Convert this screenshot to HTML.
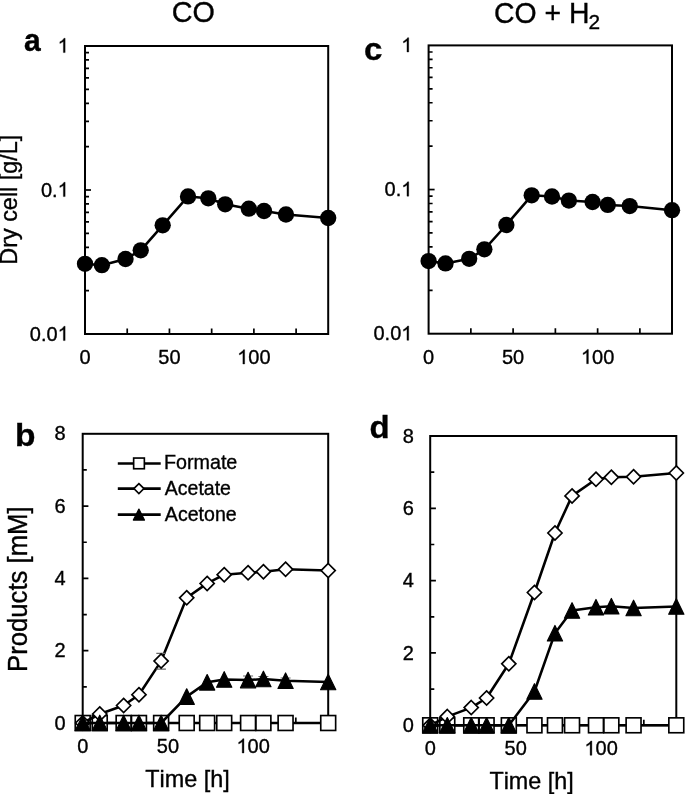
<!DOCTYPE html>
<html><head><meta charset="utf-8"><title>CO vs CO+H2 growth and products</title>
<style>html,body{margin:0;padding:0;background:#fff;}svg{display:block;font-family:"Liberation Sans",sans-serif;will-change:transform;}.ax{fill:none;stroke:#000;stroke-width:2;}.tk{fill:none;stroke:#000;stroke-width:1.7;}.ln{fill:none;stroke:#000;stroke-width:2.55;stroke-linejoin:round;}.mk{fill:#fff;stroke:#000;stroke-width:1.65;}.one{fill:#000;stroke:#000;stroke-width:0.35px;vector-effect:non-scaling-stroke;}.tri{fill:#000;stroke:#000;stroke-width:1.2;stroke-linejoin:round;}.eb{fill:none;stroke:#666;stroke-width:1.1;}text{fill:#000;font-kerning:none;stroke:#000;stroke-width:0.35px;}</style></head><body>
<svg width="685" height="794" viewBox="0 0 685 794">
<rect width="685" height="794" fill="#fff"/>
<text transform="translate(171.84,22.31) scale(1,1.0363)" x="0" y="0" font-size="28.758">CO</text>
<text transform="translate(494.06,22.61) scale(1,1.0595)" x="0" y="0" font-size="28.395">CO + H</text>
<text transform="translate(588.45,29.2) scale(1,0.9615)" x="0" y="0" font-size="20.853">2</text>
<text transform="translate(23.92,50.69) scale(1,1.0523)" x="0" y="0" font-size="30.007" font-weight="bold">a</text>
<text transform="translate(15.09,445.59) scale(1,0.9338)" x="0" y="0" font-size="33.538" font-weight="bold">b</text>
<text transform="translate(363.91,59.8) scale(1,0.9346)" x="0" y="0" font-size="33.006" font-weight="bold">c</text>
<text transform="translate(369.45,437.6) scale(1,0.9466)" x="0" y="0" font-size="32.943" font-weight="bold">d</text>
<text transform="translate(17,264.72) rotate(-90) scale(1,1.0338)" x="0" y="0" font-size="23.409">Dry cell [g/L]</text>
<text transform="translate(26.9,672.01) rotate(-90) scale(1,1.0571)" x="0" y="0" font-size="25.713">Products [mM]</text>
<text transform="translate(145.27,787.32) scale(1,1.0043)" x="0" y="0" font-size="23.394">Time [h]</text>
<text transform="translate(489.38,789.02) scale(1,1.0055)" x="0" y="0" font-size="23.365">Time [h]</text>
<rect x="85" y="46" width="243.2" height="288" class="ax"/>
<path class="tk" d="M85,146.65 H89 M85,121.29 H89 M85,103.3 H89 M85,89.35 H89 M85,77.95 H89 M85,68.31 H89 M85,59.96 H89 M85,52.59 H89 M85,290.65 H89 M85,265.29 H89 M85,247.3 H89 M85,233.35 H89 M85,221.95 H89 M85,212.31 H89 M85,203.96 H89 M85,196.59 H89 "/><path class="tk" d="M85,190 H91 "/>
<path class="tk" d="M127.22,334 V328.5 M169.44,334 V328.5 M211.67,334 V328.5 M253.89,334 V328.5 M296.11,334 V328.5 "/>
<g transform="translate(57.68,52.6)"><path class="one" transform="translate(0,0) scale(0.009766,-0.009766)" d="M763,0 L583,0 L583,1147 Q518,1085 412,1023 Q306,961 223,930 L223,1104 Q372,1174 484,1274 Q596,1374 643,1466 L763,1466 Z"/></g>
<g transform="translate(41,196.6)"><text x="0" y="0" font-size="20" transform="scale(1,1.04)">0</text><text x="11.12" y="0" font-size="20" transform="scale(1,1.04)">.</text><path class="one" transform="translate(16.68,0) scale(0.009766,-0.009766)" d="M763,0 L583,0 L583,1147 Q518,1085 412,1023 Q306,961 223,930 L223,1104 Q372,1174 484,1274 Q596,1374 643,1466 L763,1466 Z"/></g>
<g transform="translate(29.87,340.6)"><text x="0" y="0" font-size="20" transform="scale(1,1.04)">0</text><text x="11.12" y="0" font-size="20" transform="scale(1,1.04)">.</text><text x="16.68" y="0" font-size="20" transform="scale(1,1.04)">0</text><path class="one" transform="translate(27.8,0) scale(0.009766,-0.009766)" d="M763,0 L583,0 L583,1147 Q518,1085 412,1023 Q306,961 223,930 L223,1104 Q372,1174 484,1274 Q596,1374 643,1466 L763,1466 Z"/></g>
<g transform="translate(79.44,364)"><text x="0" y="0" font-size="20" transform="scale(1,1.04)">0</text></g>
<g transform="translate(158.32,364)"><text x="0" y="0" font-size="20" transform="scale(1,1.04)">5</text><text x="11.12" y="0" font-size="20" transform="scale(1,1.04)">0</text></g>
<g transform="translate(237.2,364)"><path class="one" transform="translate(0,0) scale(0.009766,-0.009766)" d="M763,0 L583,0 L583,1147 Q518,1085 412,1023 Q306,961 223,930 L223,1104 Q372,1174 484,1274 Q596,1374 643,1466 L763,1466 Z"/><text x="11.12" y="0" font-size="20" transform="scale(1,1.04)">0</text><text x="22.25" y="0" font-size="20" transform="scale(1,1.04)">0</text></g>
<path class="ln" d="M85,263.8 L101.89,265.2 L125.53,259 L140.73,250.3 L162.69,225.3 L188.02,196.4 L208.29,198.3 L225.18,204.3 L248.82,208.7 L264.02,211 L285.98,214.5 L328.2,218"/>
<g><circle cx="85" cy="263.8" r="8.15"/><circle cx="101.89" cy="265.2" r="8.15"/><circle cx="125.53" cy="259" r="8.15"/><circle cx="140.73" cy="250.3" r="8.15"/><circle cx="162.69" cy="225.3" r="8.15"/><circle cx="188.02" cy="196.4" r="8.15"/><circle cx="208.29" cy="198.3" r="8.15"/><circle cx="225.18" cy="204.3" r="8.15"/><circle cx="248.82" cy="208.7" r="8.15"/><circle cx="264.02" cy="211" r="8.15"/><circle cx="285.98" cy="214.5" r="8.15"/><circle cx="328.2" cy="218" r="8.15"/></g>
<rect x="428.6" y="45.4" width="243.4" height="288.3" class="ax"/>
<path class="tk" d="M428.6,146.16 H432.6 M428.6,120.77 H432.6 M428.6,102.76 H432.6 M428.6,88.79 H432.6 M428.6,77.38 H432.6 M428.6,67.73 H432.6 M428.6,59.37 H432.6 M428.6,52 H432.6 M428.6,290.31 H432.6 M428.6,264.92 H432.6 M428.6,246.91 H432.6 M428.6,232.94 H432.6 M428.6,221.53 H432.6 M428.6,211.88 H432.6 M428.6,203.52 H432.6 M428.6,196.15 H432.6 "/><path class="tk" d="M428.6,189.55 H434.6 "/>
<path class="tk" d="M470.86,333.7 V328.2 M513.11,333.7 V328.2 M555.37,333.7 V328.2 M597.63,333.7 V328.2 M639.88,333.7 V328.2 "/>
<g transform="translate(401.28,52)"><path class="one" transform="translate(0,0) scale(0.009766,-0.009766)" d="M763,0 L583,0 L583,1147 Q518,1085 412,1023 Q306,961 223,930 L223,1104 Q372,1174 484,1274 Q596,1374 643,1466 L763,1466 Z"/></g>
<g transform="translate(384.6,196.15)"><text x="0" y="0" font-size="20" transform="scale(1,1.04)">0</text><text x="11.12" y="0" font-size="20" transform="scale(1,1.04)">.</text><path class="one" transform="translate(16.68,0) scale(0.009766,-0.009766)" d="M763,0 L583,0 L583,1147 Q518,1085 412,1023 Q306,961 223,930 L223,1104 Q372,1174 484,1274 Q596,1374 643,1466 L763,1466 Z"/></g>
<g transform="translate(373.47,340.3)"><text x="0" y="0" font-size="20" transform="scale(1,1.04)">0</text><text x="11.12" y="0" font-size="20" transform="scale(1,1.04)">.</text><text x="16.68" y="0" font-size="20" transform="scale(1,1.04)">0</text><path class="one" transform="translate(27.8,0) scale(0.009766,-0.009766)" d="M763,0 L583,0 L583,1147 Q518,1085 412,1023 Q306,961 223,930 L223,1104 Q372,1174 484,1274 Q596,1374 643,1466 L763,1466 Z"/></g>
<g transform="translate(423.04,363.7)"><text x="0" y="0" font-size="20" transform="scale(1,1.04)">0</text></g>
<g transform="translate(501.99,363.7)"><text x="0" y="0" font-size="20" transform="scale(1,1.04)">5</text><text x="11.12" y="0" font-size="20" transform="scale(1,1.04)">0</text></g>
<g transform="translate(580.94,363.7)"><path class="one" transform="translate(0,0) scale(0.009766,-0.009766)" d="M763,0 L583,0 L583,1147 Q518,1085 412,1023 Q306,961 223,930 L223,1104 Q372,1174 484,1274 Q596,1374 643,1466 L763,1466 Z"/><text x="11.12" y="0" font-size="20" transform="scale(1,1.04)">0</text><text x="22.25" y="0" font-size="20" transform="scale(1,1.04)">0</text></g>
<path class="ln" d="M428.6,261.1 L445.5,263.4 L469.17,258.8 L484.38,249.3 L506.35,225 L531.71,195.3 L551.99,196.5 L568.89,200.6 L592.56,202 L607.77,204.9 L629.74,206.1 L672,210.2"/>
<g><circle cx="428.6" cy="261.1" r="8.15"/><circle cx="445.5" cy="263.4" r="8.15"/><circle cx="469.17" cy="258.8" r="8.15"/><circle cx="484.38" cy="249.3" r="8.15"/><circle cx="506.35" cy="225" r="8.15"/><circle cx="531.71" cy="195.3" r="8.15"/><circle cx="551.99" cy="196.5" r="8.15"/><circle cx="568.89" cy="200.6" r="8.15"/><circle cx="592.56" cy="202" r="8.15"/><circle cx="607.77" cy="204.9" r="8.15"/><circle cx="629.74" cy="206.1" r="8.15"/><circle cx="672" cy="210.2" r="8.15"/></g>
<rect x="82.7" y="433.8" width="245.5" height="289.2" class="ax"/>
<path class="tk" d="M82.7,686.85 H86.8 M82.7,614.55 H86.8 M82.7,542.25 H86.8 M82.7,469.95 H86.8 "/><path class="tk" d="M82.7,650.7 H88.4 M82.7,578.4 H88.4 M82.7,506.1 H88.4 "/>
<path class="tk" d="M125.32,723 V717.5 M167.94,723 V717.5 M210.56,723 V717.5 M253.19,723 V717.5 M295.81,723 V717.5 "/>
<g transform="translate(54.58,729.6)"><text x="0" y="0" font-size="20" transform="scale(1,1.04)">0</text></g>
<g transform="translate(54.58,657.3)"><text x="0" y="0" font-size="20" transform="scale(1,1.04)">2</text></g>
<g transform="translate(54.58,585)"><text x="0" y="0" font-size="20" transform="scale(1,1.04)">4</text></g>
<g transform="translate(54.58,512.7)"><text x="0" y="0" font-size="20" transform="scale(1,1.04)">6</text></g>
<g transform="translate(54.58,440.4)"><text x="0" y="0" font-size="20" transform="scale(1,1.04)">8</text></g>
<g transform="translate(77.14,753)"><text x="0" y="0" font-size="20" transform="scale(1,1.04)">0</text></g>
<g transform="translate(156.82,753)"><text x="0" y="0" font-size="20" transform="scale(1,1.04)">5</text><text x="11.12" y="0" font-size="20" transform="scale(1,1.04)">0</text></g>
<g transform="translate(236.5,753)"><path class="one" transform="translate(0,0) scale(0.009766,-0.009766)" d="M763,0 L583,0 L583,1147 Q518,1085 412,1023 Q306,961 223,930 L223,1104 Q372,1174 484,1274 Q596,1374 643,1466 L763,1466 Z"/><text x="11.12" y="0" font-size="20" transform="scale(1,1.04)">0</text><text x="22.25" y="0" font-size="20" transform="scale(1,1.04)">0</text></g>
<path class="ln" d="M82.7,723 L99.75,723 L123.62,723 L138.96,723 L161.12,723 L186.7,723 L207.15,723 L224.2,723 L248.07,723 L263.42,723 L285.58,723 L328.2,723"/>
<g><rect x="75.25" y="715.55" width="14.9" height="14.9" class="mk"/><rect x="92.3" y="715.55" width="14.9" height="14.9" class="mk"/><rect x="116.17" y="715.55" width="14.9" height="14.9" class="mk"/><rect x="131.51" y="715.55" width="14.9" height="14.9" class="mk"/><rect x="153.67" y="715.55" width="14.9" height="14.9" class="mk"/><rect x="179.25" y="715.55" width="14.9" height="14.9" class="mk"/><rect x="199.7" y="715.55" width="14.9" height="14.9" class="mk"/><rect x="216.75" y="715.55" width="14.9" height="14.9" class="mk"/><rect x="240.62" y="715.55" width="14.9" height="14.9" class="mk"/><rect x="255.97" y="715.55" width="14.9" height="14.9" class="mk"/><rect x="278.13" y="715.55" width="14.9" height="14.9" class="mk"/><rect x="320.75" y="715.55" width="14.9" height="14.9" class="mk"/></g>
<path class="ln" d="M82.7,723 L99.75,714 L123.62,705.5 L138.96,694.7 L161.12,661.1 L186.7,597.8 L207.15,583.4 L224.2,574.7 L248.07,572.8 L263.42,571.7 L285.58,569.3 L328.2,570.6"/>
<path class="eb" d="M156.32,653.4 H165.92 M156.32,669.1 H165.92 M161.12,653.4 V669.1"/>
<g><path class="mk" d="M82.7,715.9 L89.8,723 L82.7,730.1 L75.6,723 Z"/><path class="mk" d="M99.75,706.9 L106.85,714 L99.75,721.1 L92.65,714 Z"/><path class="mk" d="M123.62,698.4 L130.71,705.5 L123.62,712.6 L116.52,705.5 Z"/><path class="mk" d="M138.96,687.6 L146.06,694.7 L138.96,701.8 L131.86,694.7 Z"/><path class="mk" d="M161.12,654 L168.22,661.1 L161.12,668.2 L154.03,661.1 Z"/><path class="mk" d="M186.7,590.7 L193.79,597.8 L186.7,604.9 L179.6,597.8 Z"/><path class="mk" d="M207.15,576.3 L214.25,583.4 L207.15,590.5 L200.06,583.4 Z"/><path class="mk" d="M224.2,567.6 L231.3,574.7 L224.2,581.8 L217.11,574.7 Z"/><path class="mk" d="M248.07,565.7 L255.17,572.8 L248.07,579.9 L240.97,572.8 Z"/><path class="mk" d="M263.42,564.6 L270.51,571.7 L263.42,578.8 L256.32,571.7 Z"/><path class="mk" d="M285.58,562.2 L292.68,569.3 L285.58,576.4 L278.48,569.3 Z"/><path class="mk" d="M328.2,563.5 L335.3,570.6 L328.2,577.7 L321.1,570.6 Z"/></g>
<path class="ln" d="M82.7,723 L99.75,723 L123.62,723 L138.96,723 L161.12,723 L186.7,696.6 L207.15,682.3 L224.2,679.4 L248.07,680.1 L263.42,679 L285.58,680.7 L328.2,682"/>
<path class="eb" d="M243.07,676 H253.07 M258.42,676.5 H268.42 M280.58,678 H290.58 "/>
<g><path class="tri" d="M82.7,715.25 L90.3,730.75 L75.1,730.75 Z"/><path class="tri" d="M99.75,715.25 L107.35,730.75 L92.15,730.75 Z"/><path class="tri" d="M123.62,715.25 L131.22,730.75 L116.02,730.75 Z"/><path class="tri" d="M138.96,715.25 L146.56,730.75 L131.36,730.75 Z"/><path class="tri" d="M161.12,715.25 L168.72,730.75 L153.52,730.75 Z"/><path class="tri" d="M186.7,688.85 L194.3,704.35 L179.1,704.35 Z"/><path class="tri" d="M207.15,674.55 L214.75,690.05 L199.55,690.05 Z"/><path class="tri" d="M224.2,671.65 L231.8,687.15 L216.6,687.15 Z"/><path class="tri" d="M248.07,672.35 L255.67,687.85 L240.47,687.85 Z"/><path class="tri" d="M263.42,671.25 L271.02,686.75 L255.82,686.75 Z"/><path class="tri" d="M285.58,672.95 L293.18,688.45 L277.98,688.45 Z"/><path class="tri" d="M328.2,674.25 L335.8,689.75 L320.6,689.75 Z"/></g>
<rect x="430.2" y="436" width="246.1" height="289.3" class="ax"/>
<path class="tk" d="M430.2,689.14 H434.3 M430.2,616.81 H434.3 M430.2,544.49 H434.3 M430.2,472.16 H434.3 "/><path class="tk" d="M430.2,652.97 H435.9 M430.2,580.65 H435.9 M430.2,508.32 H435.9 "/>
<path class="tk" d="M472.93,725.3 V719.8 M515.65,725.3 V719.8 M558.38,725.3 V719.8 M601.1,725.3 V719.8 M643.83,725.3 V719.8 "/>
<g transform="translate(402.78,731.9)"><text x="0" y="0" font-size="20" transform="scale(1,1.04)">0</text></g>
<g transform="translate(402.78,659.57)"><text x="0" y="0" font-size="20" transform="scale(1,1.04)">2</text></g>
<g transform="translate(402.78,587.25)"><text x="0" y="0" font-size="20" transform="scale(1,1.04)">4</text></g>
<g transform="translate(402.78,514.92)"><text x="0" y="0" font-size="20" transform="scale(1,1.04)">6</text></g>
<g transform="translate(402.78,442.6)"><text x="0" y="0" font-size="20" transform="scale(1,1.04)">8</text></g>
<g transform="translate(424.64,755.3)"><text x="0" y="0" font-size="20" transform="scale(1,1.04)">0</text></g>
<g transform="translate(504.53,755.3)"><text x="0" y="0" font-size="20" transform="scale(1,1.04)">5</text><text x="11.12" y="0" font-size="20" transform="scale(1,1.04)">0</text></g>
<g transform="translate(584.42,755.3)"><path class="one" transform="translate(0,0) scale(0.009766,-0.009766)" d="M763,0 L583,0 L583,1147 Q518,1085 412,1023 Q306,961 223,930 L223,1104 Q372,1174 484,1274 Q596,1374 643,1466 L763,1466 Z"/><text x="11.12" y="0" font-size="20" transform="scale(1,1.04)">0</text><text x="22.25" y="0" font-size="20" transform="scale(1,1.04)">0</text></g>
<path class="ln" d="M430.2,725.3 L447.29,725.3 L471.22,725.3 L486.6,725.3 L508.82,725.3 L534.45,725.3 L554.96,725.3 L572.05,725.3 L595.98,725.3 L611.36,725.3 L633.57,725.3 L676.3,725.3"/>
<g><rect x="422.75" y="717.85" width="14.9" height="14.9" class="mk"/><rect x="439.84" y="717.85" width="14.9" height="14.9" class="mk"/><rect x="463.77" y="717.85" width="14.9" height="14.9" class="mk"/><rect x="479.15" y="717.85" width="14.9" height="14.9" class="mk"/><rect x="501.37" y="717.85" width="14.9" height="14.9" class="mk"/><rect x="527" y="717.85" width="14.9" height="14.9" class="mk"/><rect x="547.51" y="717.85" width="14.9" height="14.9" class="mk"/><rect x="564.6" y="717.85" width="14.9" height="14.9" class="mk"/><rect x="588.53" y="717.85" width="14.9" height="14.9" class="mk"/><rect x="603.91" y="717.85" width="14.9" height="14.9" class="mk"/><rect x="626.12" y="717.85" width="14.9" height="14.9" class="mk"/><rect x="668.85" y="717.85" width="14.9" height="14.9" class="mk"/></g>
<path class="ln" d="M430.2,725.3 L447.29,716.6 L471.22,707.6 L486.6,698 L508.82,663.8 L534.45,592.5 L554.96,533 L572.05,495.9 L595.98,479.3 L611.36,477.3 L633.57,476.8 L676.3,473"/>
<g><path class="mk" d="M430.2,718.2 L437.3,725.3 L430.2,732.4 L423.1,725.3 Z"/><path class="mk" d="M447.29,709.5 L454.39,716.6 L447.29,723.7 L440.19,716.6 Z"/><path class="mk" d="M471.22,700.5 L478.31,707.6 L471.22,714.7 L464.12,707.6 Z"/><path class="mk" d="M486.6,690.9 L493.7,698 L486.6,705.1 L479.5,698 Z"/><path class="mk" d="M508.82,656.7 L515.91,663.8 L508.82,670.9 L501.72,663.8 Z"/><path class="mk" d="M534.45,585.4 L541.55,592.5 L534.45,599.6 L527.35,592.5 Z"/><path class="mk" d="M554.96,525.9 L562.06,533 L554.96,540.1 L547.86,533 Z"/><path class="mk" d="M572.05,488.8 L579.15,495.9 L572.05,503 L564.95,495.9 Z"/><path class="mk" d="M595.98,472.2 L603.07,479.3 L595.98,486.4 L588.88,479.3 Z"/><path class="mk" d="M611.36,470.2 L618.45,477.3 L611.36,484.4 L604.26,477.3 Z"/><path class="mk" d="M633.57,469.7 L640.67,476.8 L633.57,483.9 L626.48,476.8 Z"/><path class="mk" d="M676.3,465.9 L683.4,473 L676.3,480.1 L669.2,473 Z"/></g>
<path class="ln" d="M430.2,725.3 L447.29,725.3 L471.22,725.3 L486.6,725.3 L508.82,725.3 L534.45,691.5 L554.96,633.2 L572.05,610.5 L595.98,607.2 L611.36,606.2 L633.57,608 L676.3,606.5"/>
<g><path class="tri" d="M430.2,717.55 L437.8,733.05 L422.6,733.05 Z"/><path class="tri" d="M447.29,717.55 L454.89,733.05 L439.69,733.05 Z"/><path class="tri" d="M471.22,717.55 L478.82,733.05 L463.62,733.05 Z"/><path class="tri" d="M486.6,717.55 L494.2,733.05 L479,733.05 Z"/><path class="tri" d="M508.82,717.55 L516.42,733.05 L501.22,733.05 Z"/><path class="tri" d="M534.45,683.75 L542.05,699.25 L526.85,699.25 Z"/><path class="tri" d="M554.96,625.45 L562.56,640.95 L547.36,640.95 Z"/><path class="tri" d="M572.05,602.75 L579.65,618.25 L564.45,618.25 Z"/><path class="tri" d="M595.98,599.45 L603.58,614.95 L588.38,614.95 Z"/><path class="tri" d="M611.36,598.45 L618.96,613.95 L603.76,613.95 Z"/><path class="tri" d="M633.57,600.25 L641.17,615.75 L625.97,615.75 Z"/><path class="tri" d="M676.3,598.75 L683.9,614.25 L668.7,614.25 Z"/></g>
<path class="ln" d="M117.8,463.4 H160.7 M117.8,488.6 H160.7 M117.8,514.6 H160.7"/>
<rect x="133.65" y="458.05" width="10.7" height="10.7" class="mk"/>
<path class="mk" d="M138.9,483.56 L143.94,488.6 L138.9,493.64 L133.86,488.6 Z"/>
<path class="tri" d="M138.9,509.1 L144.45,520.1 L133.35,520.1 Z"/>
<text transform="translate(163.98,469.4) scale(1,1.0397)" x="0" y="0" font-size="19.713">Formate</text>
<text transform="translate(164.86,495.11) scale(1,1.0146)" x="0" y="0" font-size="19.493">Acetate</text>
<text transform="translate(164.86,520.7) scale(1,1.0385)" x="0" y="0" font-size="19.597">Acetone</text>
</svg></body></html>
